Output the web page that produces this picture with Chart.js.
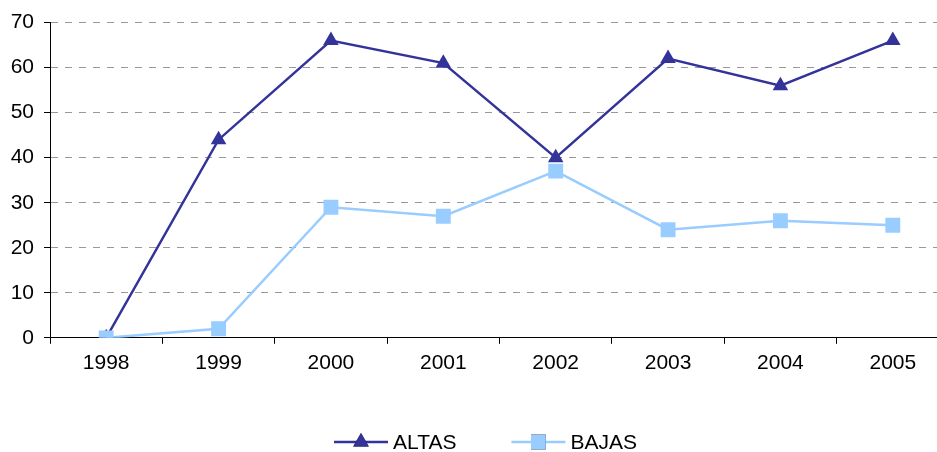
<!DOCTYPE html>
<html>
<head>
<meta charset="utf-8">
<script src="https://cdn.jsdelivr.net/npm/chart.js@4/dist/chart.umd.min.js"></script>
<style>
    html, body { margin: 0; padding: 0; background: #fff; overflow: hidden; }
    #wrap { width: 960px; height: 452px; }
</style>
</head>
<body>
<div id="wrap"><canvas id="myChart"></canvas></div>
<script>
var years = ["1998", "1999", "2000", "2001", "2002", "2003", "2004", "2005"];
var altas = [0, 44, 66, 61, 40, 62, 56, 66];
var bajas = [0, 2, 29, 27, 37, 24, 26, 25];
var seriesNames = ["ALTAS", "BAJAS"];
var yTicks = [0, 10, 20, 30, 40, 50, 60, 70];

var FONT = "'Liberation Sans', Arial, sans-serif";

// legend drawn by hand: line + marker + text, like the office chart
var lineLegend = {
    id: 'lineLegend',
    afterDraw: function (chart) {
        var ctx = chart.ctx;
        var x = 334, y = 442;
        ctx.save();
        ctx.font = "21px " + FONT;
        ctx.textBaseline = "middle";
        chart.data.datasets.forEach(function (ds) {
            ctx.strokeStyle = ds.borderColor;
            ctx.lineWidth = ds.borderWidth;
            ctx.beginPath();
            ctx.moveTo(x, y);
            ctx.lineTo(x + 54, y);
            ctx.stroke();
            Chart.helpers.drawPoint(ctx, {
                pointStyle: ds.pointStyle,
                radius: ds.pointRadius,
                rotation: 0,
                borderWidth: 0
            }, x + 27, y);
            ctx.fillStyle = ds.pointBackgroundColor;
            ctx.fill();
            ctx.fillStyle = "#000";
            ctx.fillText(ds.label, x + 59, y + 1);
            x += 59 + ctx.measureText(ds.label).width + 55;
        });
        ctx.restore();
    }
};

new Chart("myChart", {
    type: "line",
    data: {
        labels: years,
        datasets: [{
            label: seriesNames[0],
            data: altas,
            order: 1,
            borderColor: "#333399",
            backgroundColor: "#333399",
            pointBackgroundColor: "#333399",
            pointBorderWidth: 0,
            borderWidth: 2.5,
            pointStyle: "triangle",
            pointRadius: 9,
            tension: 0
        }, {
            label: seriesNames[1],
            data: bajas,
            order: 0,
            borderColor: "#99CCFF",
            backgroundColor: "#99CCFF",
            pointBackgroundColor: "#99CCFF",
            pointBorderWidth: 0,
            borderWidth: 2.5,
            pointStyle: "rect",
            pointRadius: 10.5,
            tension: 0
        }]
    },
    options: {
        responsive: true,
        maintainAspectRatio: false,
        animation: false,
        layout: { padding: { top: 20, right: 11, bottom: 69, left: 0 } },
        plugins: {
            legend: { display: false },
            tooltip: { enabled: false }
        },
        scales: {
            x: {
                offset: true,
                grid: {
                    offset: true,
                    drawOnChartArea: false,
                    tickLength: 6,
                    tickColor: "#000"
                },
                border: { display: true, color: "#000", width: 1 },
                ticks: { color: "#000", font: { family: FONT, size: 21 }, padding: 7, maxRotation: 0 }
            },
            y: {
                min: 0,
                max: 70,
                afterFit: function (scale) { scale.width = 50; },
                afterBuildTicks: function (scale) {
                    scale.ticks = yTicks.map(function (v) { return { value: v }; });
                },
                grid: {
                    color: function (c) { return c.index === 0 ? "rgba(0,0,0,0)" : "#999"; },
                    tickColor: "#000",
                    tickLength: 6,
                    tickBorderDash: []
                },
                border: { display: true, color: "#000", width: 1, dash: [7, 7] },
                ticks: { color: "#000", font: { family: FONT, size: 21 }, padding: 10 }
            }
        }
    },
    plugins: [lineLegend]
});
</script>
</body>
</html>
